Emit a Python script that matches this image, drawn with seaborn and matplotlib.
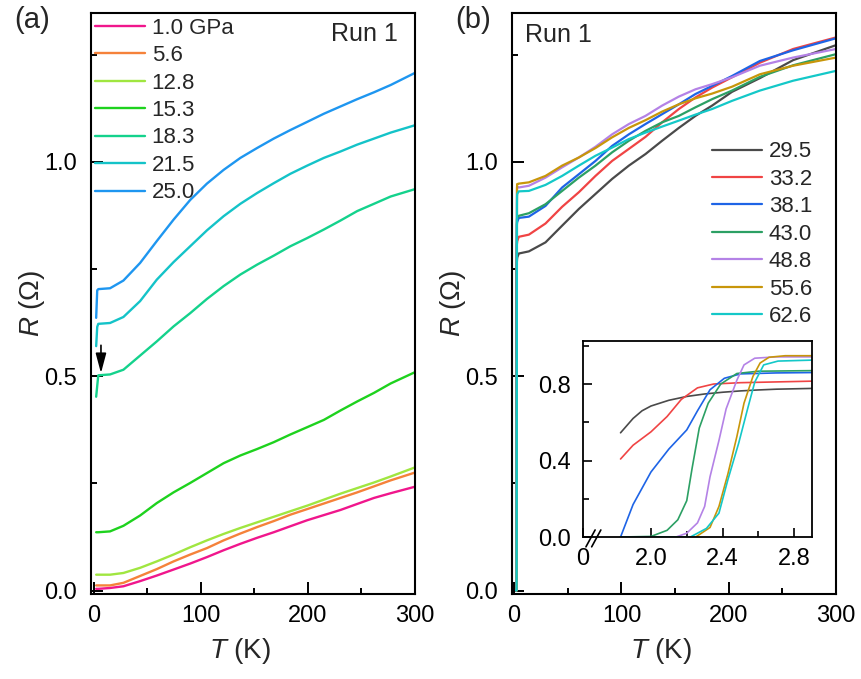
import seaborn as sns
import matplotlib
matplotlib.use("Agg")
import matplotlib.pyplot as plt
from matplotlib.ticker import FixedLocator, FixedFormatter

# ---- panel (a): R(T) at low pressures ----
pressures_a = ["1.0 GPa", "5.6", "12.8", "15.3", "18.3", "21.5", "25.0"]
colors_a = ["#f0168c", "#f5823a", "#a0e640", "#1ed21e", "#14d28c", "#14c3c8", "#1e96f0"]

T_a = [4, 15, 27.5, 43.1, 58.7, 74.4, 90, 105.6, 121.2, 136.9, 152.5, 168.1,
       183.7, 199.4, 215, 230.6, 246.2, 261.9, 277.5, 300]
R_10 = [0.004, 0.006, 0.010, 0.022, 0.035, 0.049, 0.063, 0.078, 0.094, 0.109,
        0.123, 0.136, 0.150, 0.164, 0.176, 0.188, 0.202, 0.216, 0.227, 0.242]
R_56 = [0.012, 0.012, 0.018, 0.034, 0.050, 0.068, 0.084, 0.099, 0.117, 0.133,
        0.148, 0.162, 0.177, 0.190, 0.203, 0.216, 0.229, 0.243, 0.257, 0.275]
R_128 = [0.037, 0.037, 0.041, 0.053, 0.068, 0.084, 0.101, 0.117, 0.132, 0.146,
         0.159, 0.172, 0.185, 0.198, 0.212, 0.226, 0.239, 0.252, 0.266, 0.287]
R_153 = [0.136, 0.138, 0.151, 0.175, 0.204, 0.229, 0.251, 0.274, 0.297, 0.315,
         0.330, 0.346, 0.364, 0.381, 0.398, 0.420, 0.441, 0.461, 0.483, 0.509]
R_183 = [0.502, 0.504, 0.515, 0.548, 0.581, 0.616, 0.647, 0.680, 0.710, 0.737,
         0.760, 0.781, 0.803, 0.822, 0.842, 0.863, 0.885, 0.902, 0.919, 0.936]
R_215 = [0.622, 0.624, 0.638, 0.675, 0.725, 0.766, 0.803, 0.840, 0.873, 0.902,
         0.927, 0.950, 0.972, 0.991, 1.009, 1.024, 1.040, 1.054, 1.068, 1.085]
R_250 = [0.703, 0.705, 0.723, 0.764, 0.815, 0.865, 0.911, 0.949, 0.981, 1.009,
         1.032, 1.054, 1.074, 1.093, 1.112, 1.129, 1.146, 1.162, 1.179, 1.207]

# points below 4 K (drop at the lowest temperatures)
Tlow_a = [[2], [2], [2], [2], [2, 3.5], [2, 3], [2, 3]]
Rlow_a = [[0.004], [0.012], [0.037], [0.136], [0.452, 0.49], [0.57, 0.615], [0.636, 0.70]]
R_a = [R_10, R_56, R_128, R_153, R_183, R_215, R_250]

# ---- panel (b): R(T) at high pressures ----
pressures_b = ["29.5", "33.2", "38.1", "43.0", "48.8", "55.6", "62.6"]
colors_b = ["#4a4a4a", "#f04444", "#1e64e6", "#2ca064", "#b482e6", "#c8960a", "#14c8c8"]

T_hi = [4.3, 13.7, 29.2, 44.7, 60.3, 75.8, 91.3, 106.9, 122.4, 137.9, 153.5,
        169, 184.5, 203, 229, 260, 300]
Rhi_295 = [0.786, 0.791, 0.812, 0.851, 0.890, 0.925, 0.960, 0.991, 1.018, 1.049,
           1.079, 1.107, 1.131, 1.163, 1.195, 1.237, 1.272]
Rhi_332 = [0.825, 0.830, 0.856, 0.895, 0.929, 0.967, 1.002, 1.030, 1.058, 1.092,
           1.123, 1.150, 1.173, 1.197, 1.231, 1.263, 1.290]
Rhi_381 = [0.869, 0.872, 0.897, 0.940, 0.971, 1.002, 1.037, 1.064, 1.088, 1.111,
           1.134, 1.158, 1.177, 1.200, 1.235, 1.260, 1.288]
Rhi_430 = [0.874, 0.880, 0.901, 0.932, 0.963, 0.991, 1.022, 1.049, 1.072, 1.092,
           1.107, 1.127, 1.146, 1.166, 1.198, 1.225, 1.251]
Rhi_488 = [0.940, 0.944, 0.963, 0.987, 1.010, 1.035, 1.064, 1.088, 1.107, 1.131,
           1.152, 1.169, 1.181, 1.197, 1.224, 1.243, 1.263]
Rhi_556 = [0.949, 0.952, 0.967, 0.991, 1.010, 1.032, 1.057, 1.079, 1.097, 1.117,
           1.134, 1.148, 1.159, 1.175, 1.204, 1.224, 1.243]
Rhi_626 = [0.931, 0.932, 0.946, 0.967, 0.991, 1.014, 1.033, 1.053, 1.068, 1.082,
           1.096, 1.110, 1.123, 1.142, 1.166, 1.189, 1.212]

# low-T superconducting transitions (inset)
Tlo_295 = [1.83, 1.9, 1.95, 2.0, 2.1, 2.2, 2.3, 2.4, 2.5, 2.6, 2.7, 2.8, 2.9]
Rlo_295 = [0.545, 0.62, 0.66, 0.685, 0.715, 0.735, 0.748, 0.757, 0.764, 0.769, 0.773, 0.775, 0.777]
Tlo_332 = [1.83, 1.9, 2.0, 2.09, 2.17, 2.26, 2.35, 2.5, 2.7, 2.9]
Rlo_332 = [0.408, 0.48, 0.55, 0.63, 0.72, 0.78, 0.80, 0.807, 0.811, 0.815]
Tlo_381 = [1.83, 1.9, 2.0, 2.1, 2.2, 2.26, 2.33, 2.41, 2.5, 2.7, 2.9]
Rlo_381 = [0.0, 0.17, 0.34, 0.46, 0.56, 0.66, 0.77, 0.83, 0.853, 0.858, 0.86]
Tlo_430 = [1.83, 2.0, 2.09, 2.15, 2.2, 2.23, 2.27, 2.32, 2.39, 2.48, 2.6, 2.9]
Rlo_430 = [0.0, 0.003, 0.035, 0.09, 0.19, 0.36, 0.57, 0.70, 0.80, 0.855, 0.867, 0.87]
Tlo_488 = [1.83, 2.14, 2.2, 2.26, 2.3, 2.33, 2.38, 2.42, 2.48, 2.52, 2.58, 2.7, 2.9]
Rlo_488 = [0.0, 0.0, 0.02, 0.074, 0.16, 0.315, 0.505, 0.67, 0.82, 0.90, 0.935, 0.942, 0.942]
Tlo_556 = [1.83, 2.25, 2.33, 2.38, 2.43, 2.48, 2.52, 2.57, 2.61, 2.66, 2.75, 2.9]
Rlo_556 = [0.0, 0.0, 0.05, 0.16, 0.33, 0.525, 0.70, 0.84, 0.91, 0.94, 0.948, 0.948]
Tlo_626 = [1.83, 2.22, 2.31, 2.38, 2.43, 2.49, 2.54, 2.58, 2.63, 2.71, 2.9]
Rlo_626 = [0.0, 0.0, 0.045, 0.125, 0.30, 0.49, 0.67, 0.81, 0.90, 0.92, 0.925]

lo_b = [(Tlo_295, Rlo_295), (Tlo_332, Rlo_332), (Tlo_381, Rlo_381), (Tlo_430, Rlo_430),
        (Tlo_488, Rlo_488), (Tlo_556, Rlo_556), (Tlo_626, Rlo_626)]
hi_b = [Rhi_295, Rhi_332, Rhi_381, Rhi_430, Rhi_488, Rhi_556, Rhi_626]

sns.set_theme(style="ticks")
plt.rcParams["font.family"] = ["Liberation Sans", "DejaVu Sans"]
plt.rcParams["mathtext.fontset"] = "custom"
plt.rcParams["mathtext.rm"] = "Liberation Sans"
plt.rcParams["mathtext.it"] = "Liberation Sans:italic"

fig = plt.figure(figsize=(8.62, 6.79), dpi=100)
ax_a = fig.add_axes([0.1056, 0.1252, 0.3759, 0.8557])
ax_b = fig.add_axes([0.594, 0.1252, 0.3759, 0.8557])

TICK_FS = 17


def style_main(ax):
    ax.set_xlim(-2.8, 300.3)
    ax.set_ylim(-0.008, 1.347)
    ax.xaxis.set_major_locator(FixedLocator([0, 100, 200, 300]))
    ax.xaxis.set_minor_locator(FixedLocator([50, 150, 250]))
    ax.yaxis.set_major_locator(FixedLocator([0.0, 0.5, 1.0]))
    ax.yaxis.set_major_formatter(FixedFormatter(["0.0", "0.5", "1.0"]))
    ax.yaxis.set_minor_locator(FixedLocator([0.25, 0.75, 1.25]))
    ax.tick_params(which="both", direction="in", width=1.4, colors="black",
                   labelsize=TICK_FS, top=False, right=False)
    ax.tick_params(which="major", length=8.6)
    ax.tick_params(which="minor", length=4.5)
    ax.tick_params(axis="y", pad=10)
    ax.tick_params(axis="x", pad=8)
    for s in ax.spines.values():
        s.set_linewidth(1.5)
        s.set_color("black")
    ax.set_xlabel(r"$\it{T}$ (K)", fontsize=20)
    ax.set_ylabel(r"$\it{R}$ ($\Omega$)", fontsize=20)
    ax.xaxis.set_label_coords(0.46, -0.073)
    ax.yaxis.set_label_coords(-0.135, 0.5)


# panel (a)
for Tl, Rl, R, lab, c in zip(Tlow_a, Rlow_a, R_a, pressures_a, colors_a):
    sns.lineplot(x=Tl + T_a, y=Rl + R, ax=ax_a, color=c, lw=1.7, label=lab,
                 sort=False, estimator=None)
style_main(ax_a)
ax_a.legend(loc="upper left", bbox_to_anchor=(0.012, 0.992), frameon=False, fontsize=16,
            borderpad=0, borderaxespad=0, handlelength=2.25, handletextpad=0.3,
            labelspacing=0.29)
ax_a.text(0.948, 0.964, "Run 1", transform=ax_a.transAxes, ha="right", va="center", fontsize=18)
ax_a.annotate("", xy=(6.5, 0.507), xytext=(6.5, 0.572),
              arrowprops=dict(arrowstyle="-|>,head_width=0.16,head_length=0.6",
                              mutation_scale=20, color="black", lw=1.2,
                              shrinkA=0, shrinkB=0))

# panel (b)
for (Tl, Rl), Rh, lab, c in zip(lo_b, hi_b, pressures_b, colors_b):
    sns.lineplot(x=list(Tl) + T_hi, y=list(Rl) + Rh, ax=ax_b, color=c, lw=1.6,
                 label=lab, sort=False, estimator=None)
style_main(ax_b)
ax_b.set_xlim(-2, 300)
ax_b.legend(loc="upper left", bbox_to_anchor=(0.617, 0.779), frameon=False, fontsize=16,
            borderpad=0, borderaxespad=0, handlelength=2.25, handletextpad=0.3,
            labelspacing=0.29)
ax_b.text(0.040, 0.962, "Run 1", transform=ax_b.transAxes, ha="left", va="center", fontsize=18)

# inset
ax_in = fig.add_axes([0.6763, 0.2091, 0.2657, 0.2887])
for (Tl, Rl), c in zip(lo_b, colors_b):
    sns.lineplot(x=Tl, y=Rl, ax=ax_in, color=c, lw=1.2, sort=False, estimator=None, legend=False)
ax_in.set_xlim(1.62, 2.9)
ax_in.set_ylim(0, 1.025)
ax_in.xaxis.set_major_locator(FixedLocator([1.62, 2.0, 2.4, 2.8]))
ax_in.xaxis.set_major_formatter(FixedFormatter(["0", "2.0", "2.4", "2.8"]))
ax_in.xaxis.set_minor_locator(FixedLocator([2.2, 2.6]))
ax_in.yaxis.set_major_locator(FixedLocator([0.0, 0.4, 0.8]))
ax_in.yaxis.set_major_formatter(FixedFormatter(["0.0", "0.4", "0.8"]))
ax_in.yaxis.set_minor_locator(FixedLocator([0.2, 0.6, 1.0]))
ax_in.tick_params(which="both", direction="in", width=1.2, colors="black",
                  labelsize=TICK_FS, top=False, right=False)
ax_in.tick_params(which="major", length=6.5)
ax_in.tick_params(which="minor", length=4)
ax_in.tick_params(axis="y", pad=9)
ax_in.tick_params(axis="x", pad=8)
for s in ax_in.spines.values():
    s.set_linewidth(1.3)
    s.set_color("black")
ax_in.set_xlabel("")
ax_in.set_ylabel("")
for x0 in (0.013, 0.038):
    ax_in.plot([x0, x0 + 0.04], [-0.05, 0.036], transform=ax_in.transAxes,
               color="black", lw=1.2, clip_on=False)

fig.text(0.016, 0.971, "(a)", ha="left", va="center", fontsize=21)
fig.text(0.528, 0.971, "(b)", ha="left", va="center", fontsize=21)

fig.savefig("out.png", dpi=100)
